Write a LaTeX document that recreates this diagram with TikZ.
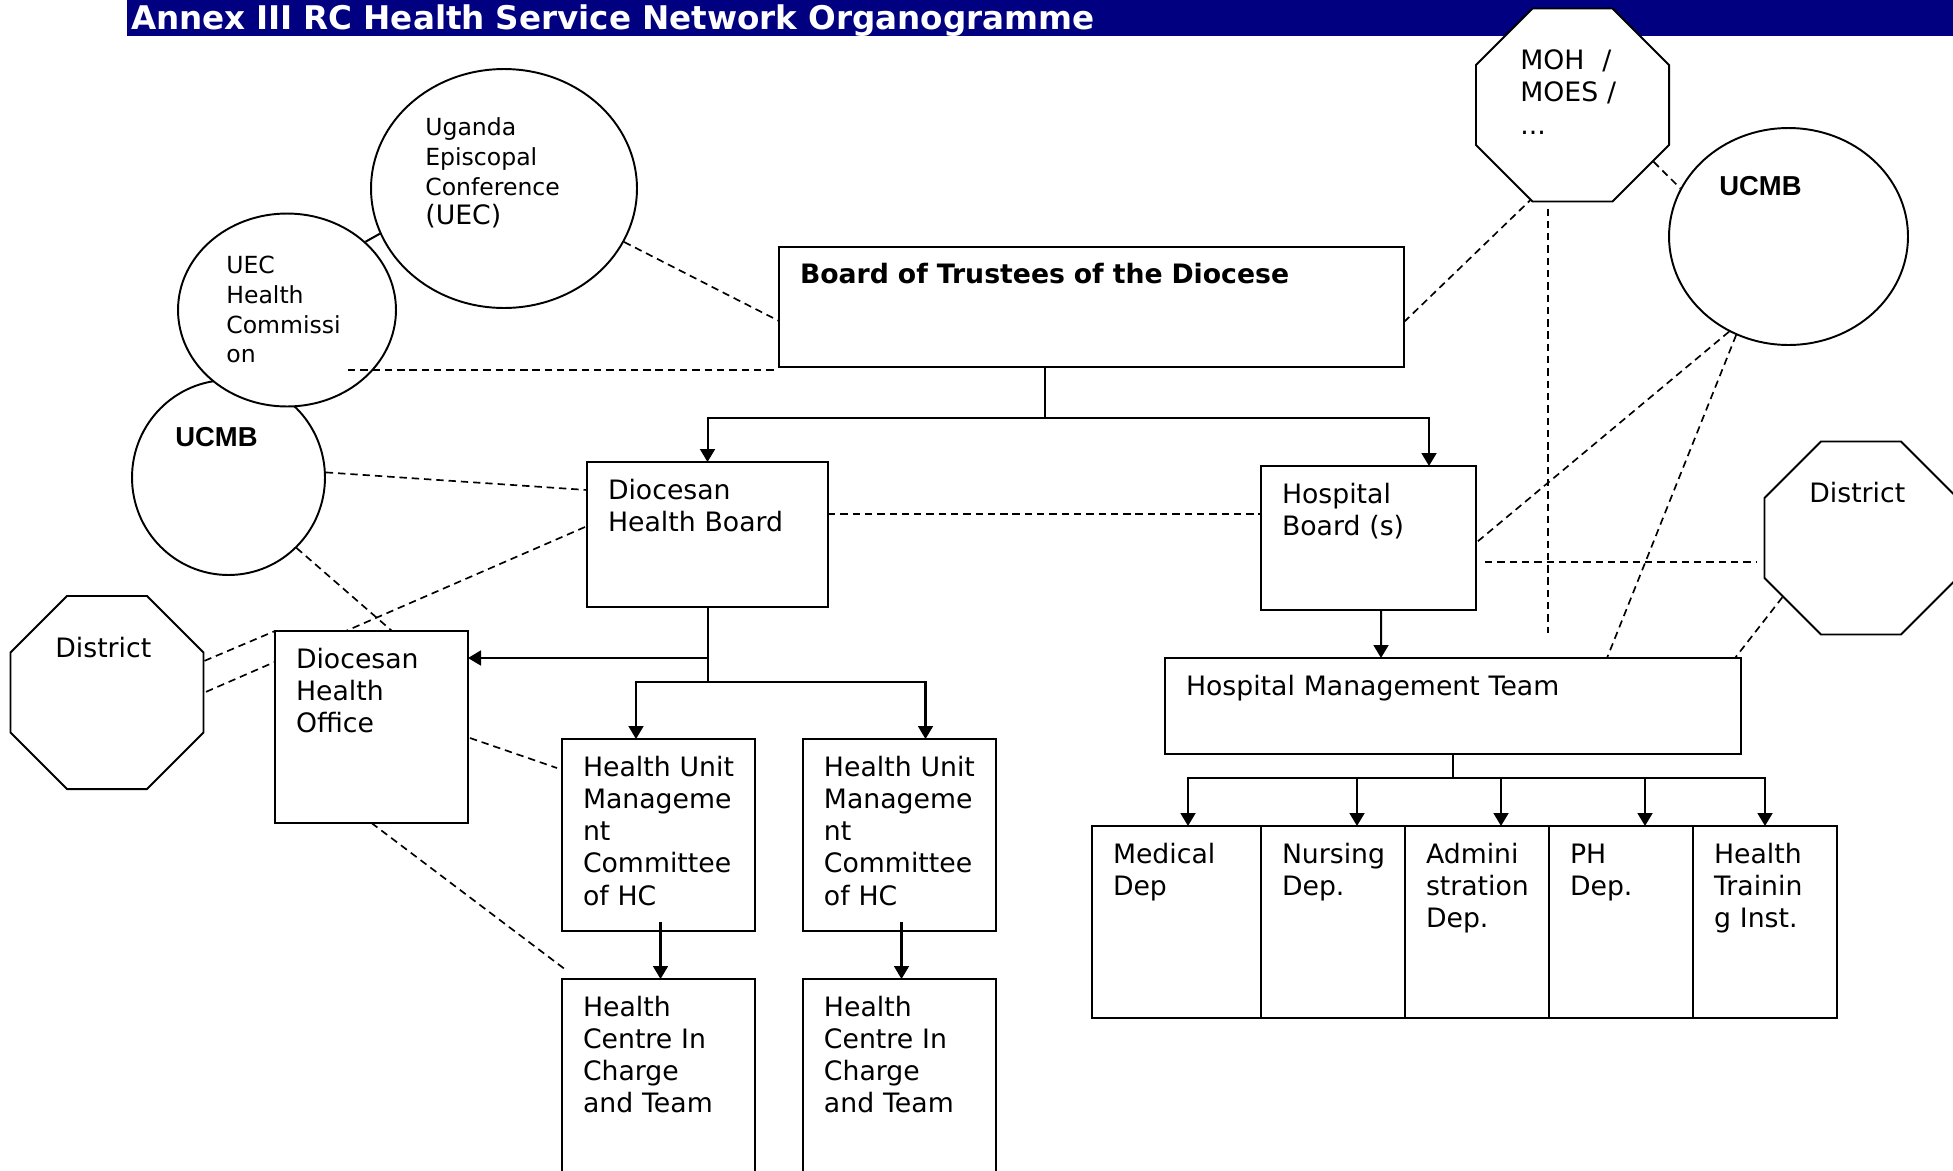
\documentclass[tikz,border=0pt]{standalone}
\usepackage{fontspec}
\setmainfont{DejaVu Sans}
\newfontfamily\ucmbfont{Liberation Sans}
\usepackage{tikz}
\usetikzlibrary{arrows.meta,positioning,shapes.geometric}
\definecolor{annexnavy}{RGB}{0,0,128}
\newcommand\mainsize{\fontsize{15.2}{18.4}\selectfont}
\newcommand\smallsize{\fontsize{13.4}{17}\selectfont}
\newcommand\ucmbsize{\ucmbfont\bfseries\fontsize{15.6}{18}\selectfont}
\hyphenpenalty=10000
\pgfdeclarelayer{background}
\pgfsetlayers{background,main}

\begin{document}
\begin{tikzpicture}[x=0.02cm, y=-0.02cm,
    titlebar/.style={fill=annexnavy, text=white, anchor=north west, outer sep=0pt,
        inner xsep=0.08cm, inner ysep=0pt, align=left, text width=36.36cm,
        text height=0.6cm, text depth=0.12cm,
        font=\fontsize{18.55}{22}\selectfont\bfseries},
    orgbox/.style 2 args={draw, line width=1.2pt, fill=white, anchor=north west,
        outer sep=0pt, inner xsep=0.42cm, inner ysep=0pt, align=left,
        font=\mainsize, text height=0.74cm,
        text width=#1*0.02cm-0.84cm, text depth=#2*0.02cm-0.74cm},
    oval/.style={draw, ellipse, line width=1.1pt, fill=white, inner sep=0pt},
    octa/.style={draw, regular polygon, regular polygon sides=8, minimum size=4.18cm,
        line width=1.1pt, fill=white, inner sep=0pt},
    shapetext/.style={anchor=north west, inner sep=0pt, align=left, text width=4cm,
        text height=0pt, font=\mainsize},
    link/.style={line width=0.95pt, dash pattern=on 4.2pt off 2.8pt},
    tree/.style={line width=1.15pt},
    arr/.style={tree, -{Triangle[length=7.4pt, width=8.5pt]}}
]
\useasboundingbox (0,0) rectangle (1953,1170);
\clip (0,0) rectangle (1953,1170);

\node[titlebar] (title) at (127,0) {Annex III RC Health Service Network Organogramme};

% church and government bodies
\node[oval, minimum width=3.86cm, minimum height=3.9cm] (ucmbL) at (228.5,477.5) {};
\node[oval, minimum width=4.36cm, minimum height=3.86cm] (uhc) at (287,310) {};
\node[oval, minimum width=5.32cm, minimum height=4.78cm] (uec) at (504,188.5) {};
\node[oval, minimum width=4.78cm, minimum height=4.34cm] (ucmbR) at (1788.5,236.5) {};
\node[octa] (moh) at (1572.5,105) {};
\node[octa] (distR) at (1861,538) {};
\node[octa] (distL) at (107,692.5) {};

\node[shapetext, font=\smallsize] (uec-t) at ([shift={(-79,-53.5)}]uec.center)
    {Uganda\\Episcopal\\Conference\\{\mainsize (UEC)}};
\node[shapetext, font=\smallsize] (uhc-t) at ([shift={(-61,-37)}]uhc.center)
    {UEC\\Health\\Commissi\\on};
\node[shapetext, font=\ucmbsize] (ucmbL-t) at ([shift={(-53.5,-32.5)}]ucmbL.center) {UCMB};
\node[shapetext, font=\ucmbsize] (ucmbR-t) at ([shift={(-69.5,-42.5)}]ucmbR.center) {UCMB};
\node[shapetext] (moh-t) at ([shift={(-52.5,-36)}]moh.center) {MOH~~/\\MOES /\\...};
\node[shapetext] (distR-t) at ([shift={(-52,-37)}]distR.center) {District};
\node[shapetext] (distL-t) at ([shift={(-52,-36.5)}]distL.center) {District};

% diocesan structure
\node[orgbox={625}{120}, font=\mainsize\bfseries] (board) at (779,247)
    {Board of Trustees of the Diocese};
\node[orgbox={241}{145}] (dhb) at (587,462) {Diocesan\\Health~Board};
\node[orgbox={215}{144}] (hb) at (1261,466) {Hospital\\Board~(s)};
\node[orgbox={193}{192}] (dho) at (275,631) {Diocesan\\Health\\Office};
\node[orgbox={193}{192}] (humc1) at (562,739)
    {Health~Unit\\Manageme\\nt\\Committee\\of~HC};
\node[orgbox={193}{192}, right=0.96cm of humc1] (humc2)
    {Health~Unit\\Manageme\\nt\\Committee\\of~HC};
\node[orgbox={193}{221}, below=0.96cm of humc1] (hcic1)
    {Health\\Centre~In\\Charge\\and~Team};
\node[orgbox={193}{221}, below=0.96cm of humc2] (hcic2)
    {Health\\Centre~In\\Charge\\and~Team};
\node[orgbox={576}{96}] (hmt) at (1165,658) {Hospital~Management~Team};
\node[orgbox={169}{192}] (med) at (1092,826) {Medical\\Dep};
\node[orgbox={144}{192}, right=0pt of med] (nur) {Nursing\\Dep.};
\node[orgbox={144}{192}, right=0pt of nur] (adm) {Admini\\stration\\Dep.};
\node[orgbox={144}{192}, right=0pt of adm] (ph) {PH\\Dep.};
\node[orgbox={144}{192}, right=0pt of ph] (hti) {Health\\Trainin\\g~Inst.};

% reporting lines
\coordinate (tj) at (1044.5,418);
\draw[tree] (board.south -| tj) -- (tj);
\draw[arr] (tj) -| (dhb.north);
\draw[arr] (tj) -| ([shift={(60.5,0)}]hb.north);
\coordinate (dj) at (707.5,682);
\coordinate (oj) at (707.5,658);
\draw[tree] (dhb.south) -- (dj);
\draw[arr] (oj) -- (oj -| dho.east);
\draw[arr] (dj) -| ([shift={(-22.5,0)}]humc1.north);
\draw[arr] (dj) -| ([shift={(26,0)}]humc2.north);
\draw[arr] ([shift={(2,-9)}]humc1.south) -- ([shift={(2,0)}]hcic1.north);
\draw[arr] ([shift={(2,-9)}]humc2.south) -- ([shift={(2,0)}]hcic2.north);
\draw[arr] ([shift={(12.5,0)}]hb.south) -- ([shift={(-72,0)}]hmt.north);
\coordinate (hj) at (1453,778);
\draw[tree] (hmt.south) -- (hj);
\foreach \d/\dx in {med/11.5, nur/24, adm/24, ph/24, hti/0}
    \draw[arr] (hj) -| ([shift={(\dx,0)}]\d.north);
\draw[tree] (uhc.41) -- (uec.200);

% liaison lines
\begin{pgfonlayer}{background}
\draw[link] ([shift={(-2,65)}]dhb.north west) -- (distL.east);
\end{pgfonlayer}
\draw[link] (uec.-24) -- ([shift={(0,14)}]board.west);
\draw[link] ([shift={(61,60)}]uhc.center) -- ([shift={(-4,3)}]board.south west);
\draw[link] (ucmbL.3) -- ([shift={(0,28)}]dhb.north west);
\draw[link] (ucmbL.-46) -- ([shift={(117,0)}]dho.north west);
\draw[link] (distL.18) -- (dho.north west);
\draw[link] ([shift={(2,107)}]dho.north east) -- ([shift={(-5,29)}]humc1.north west);
\draw[link] (dho.south) -- ([shift={(4,-9)}]hcic1.north west);
\draw[link] ([shift={(0,52)}]dhb.north east) -- ([shift={(0,48)}]hb.north west);
\draw[link] ([shift={(0,15)}]board.east) -- (moh.-114);
\draw[link] (moh.-35) -- (ucmbR.156);
\coordinate (mohfoot) at (1548,633);
\draw[link] ([shift={(-24.5,6)}]moh.south) -- (mohfoot);
\draw[link] (ucmbR.-122) -- ([shift={(1,4)}]hb.east);
\draw[link] (ucmbR.-118) -- ([shift={(-134,0)}]hmt.north east);
\draw[link] ([shift={(9,24)}]hb.east) -- ([shift={(-7,24)}]distR.west);
\draw[link] (distR.-143) -- ([shift={(-6,0)}]hmt.north east);
\end{tikzpicture}
\end{document}
